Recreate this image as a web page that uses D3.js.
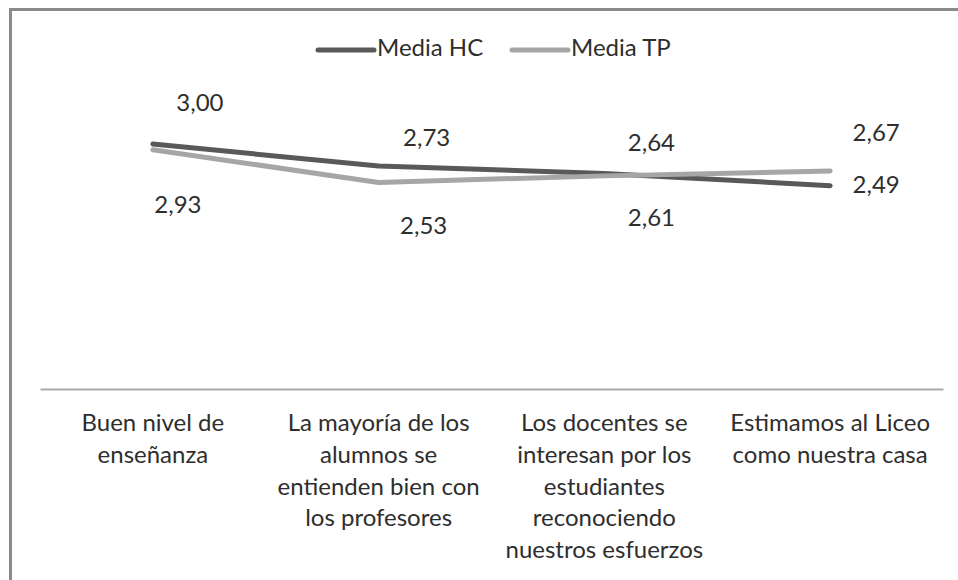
<!DOCTYPE html>
<html>
<head>
<meta charset="utf-8">
<script src="https://cdn.jsdelivr.net/npm/d3@7/dist/d3.min.js"></script>
<style>
  html, body { margin: 0; padding: 0; background: #fff; }
  svg { display: block; }
  text { font-family: Lato, "Open Sans", sans-serif; fill: #2e2e2e; }
</style>
</head>
<body>
<svg id="chart" width="958" height="580"></svg>
<script>
// Categories (line breaks mark how each label wraps under the axis)
const categories = [
  "Buen nivel de\nenseñanza",
  "La mayoría de los\nalumnos se\nentienden bien con\nlos profesores",
  "Los docentes se\ninteresan por los\nestudiantes\nreconociendo\nnuestros esfuerzos",
  "Estimamos al Liceo\ncomo nuestra casa"
];
const seriesNames = ["Media HC", "Media TP"];
const mediaHC = [3.00, 2.73, 2.64, 2.49];
const mediaTP = [2.93, 2.53, 2.61, 2.67];
const yDomain = [0, 3.5];

const seriesColors = ["#595959", "#a6a6a6"];
const seriesValues = [mediaHC, mediaTP];

// Data label placement relative to each point: [dx, dy to text middle]
const labelOffsets = [
  [[47, -39], [48, -26], [47, -29], [46, 1]],
  [[25, 57], [45, 46], [47, 44], [46, -36]]
];

const svg = d3.select("#chart");
const fmt = v => d3.format(".2f")(v).replace(".", ",");

// Outer chart border (right and bottom edges fall outside the view)
svg.append("rect")
  .attr("x", 10.5).attr("y", 9.5)
  .attr("width", 1000).attr("height", 620)
  .attr("fill", "none")
  .attr("stroke", "#8a8a8a")
  .attr("stroke-width", 3);

const x = d3.scaleBand().domain(categories).range([40, 943]).padding(0);
const y = d3.scaleLinear().domain(yDomain).range([389, 103.2]);
const cx = c => x(c) + x.bandwidth() / 2;

// Category axis: just the baseline, labels drawn as wrapped text
const axis = svg.append("g")
  .attr("transform", `translate(0,${y(0)})`)
  .call(d3.axisBottom(x).tickSize(0).tickFormat(""));
axis.select(".domain").attr("stroke", "#ababab").attr("stroke-width", 2);

const catText = svg.append("g").selectAll("text")
  .data(categories).join("text")
  .attr("x", d => cx(d))
  .attr("y", 425)
  .attr("text-anchor", "middle")
  .style("font-size", "24px");
catText.each(function(d) {
  const t = d3.select(this);
  d.split("\n").forEach((line, i) => {
    t.append("tspan")
      .attr("x", cx(d))
      .attr("y", 425 + i * 31.8)
      .attr("dominant-baseline", "middle")
      .text(line);
  });
});

// Series lines
const line = d3.line()
  .x((v, i) => cx(categories[i]))
  .y(v => y(v));

seriesValues.forEach((vals, s) => {
  svg.append("path")
    .datum(vals)
    .attr("d", line)
    .attr("fill", "none")
    .attr("stroke", seriesColors[s])
    .attr("stroke-width", 5)
    .attr("stroke-linecap", "round")
    .attr("stroke-linejoin", "round");
});

// Value labels
seriesValues.forEach((vals, s) => {
  svg.append("g").selectAll("text")
    .data(vals).join("text")
    .attr("x", (v, i) => cx(categories[i]) + labelOffsets[s][i][0])
    .attr("y", (v, i) => y(v) + labelOffsets[s][i][1])
    .attr("text-anchor", "middle")
    .attr("dominant-baseline", "middle")
    .style("font-size", "24px")
    .text(v => fmt(v));
});

// Legend
const legendPos = [318, 512];
const legend = svg.append("g").selectAll("g")
  .data(seriesNames).join("g")
  .attr("transform", (d, i) => `translate(${legendPos[i]},50)`);
legend.append("line")
  .attr("x1", 0).attr("x2", 56)
  .attr("stroke", (d, i) => seriesColors[i])
  .attr("stroke-width", 5)
  .attr("stroke-linecap", "round");
legend.append("text")
  .attr("x", 59)
  .attr("dominant-baseline", "middle")
  .style("font-size", "24px")
  .text(d => d);
</script>
</body>
</html>
